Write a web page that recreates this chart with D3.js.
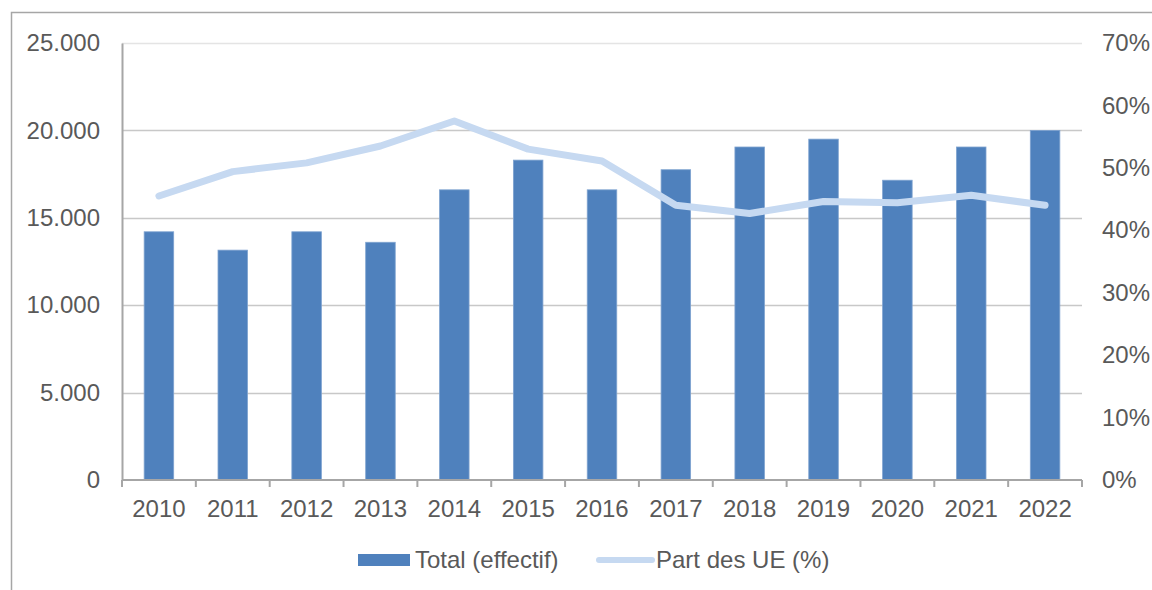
<!DOCTYPE html>
<html lang="fr">
<head>
<meta charset="UTF-8">
<title>Total et part des UE</title>
<script src="https://d3js.org/d3.v7.min.js"></script>
<style>
    body { margin: 0; background: #fff; font-family: "Liberation Sans", Arial, sans-serif; }
    svg text { fill: #595959; }
</style>
</head>
<body>
<div id="chart"></div>
<script>
    // data
    const years = ["2010", "2011", "2012", "2013", "2014", "2015", "2016", "2017", "2018", "2019", "2020", "2021", "2022"];
    const totals = [14200, 13150, 14200, 13600, 16600, 18300, 16600, 17750, 19050, 19500, 17150, 19050, 20000];
    const shareUE = [45.5, 49.4, 50.8, 53.5, 57.5, 53.0, 51.1, 44.0, 42.7, 44.6, 44.4, 45.6, 44.0];
    const leftTicks = [0, 5000, 10000, 15000, 20000, 25000];
    const rightTicks = [0, 10, 20, 30, 40, 50, 60, 70];

    const W = 1152, H = 590;
    const plot = { left: 122, right: 1082, top: 43, bottom: 480 };
    const fontSize = "24px";

    const svg = d3.select("#chart").append("svg")
        .attr("width", W).attr("height", H);

    // outer frame
    svg.append("rect")
        .attr("x", 11.5).attr("y", 12.5)
        .attr("width", W + 20).attr("height", H + 20)
        .attr("fill", "none").attr("stroke", "#a6a6a6").attr("stroke-width", 1.5);

    const x = d3.scaleBand().domain(years).range([plot.left, plot.right]).paddingInner(0.6).paddingOuter(0.3);
    const xBand = d3.scaleBand().domain(years).range([plot.left, plot.right]);
    const y = d3.scaleLinear().domain([0, 25000]).range([plot.bottom, plot.top]);
    const y2 = d3.scaleLinear().domain([0, 70]).range([plot.bottom, plot.top]);

    // gridlines
    svg.append("g").selectAll("line")
        .data(leftTicks.slice(1))
        .join("line")
        .attr("x1", plot.left).attr("x2", plot.right)
        .attr("y1", d => Math.round(y(d)) + 0.5).attr("y2", d => Math.round(y(d)) + 0.5)
        .attr("stroke", d => d === 25000 ? "#e4e4e4" : "#c8c8c8")
        .attr("stroke-width", 1.3);

    // bars
    svg.append("g").selectAll("rect")
        .data(years)
        .join("rect")
        .attr("x", d => x(d))
        .attr("width", x.bandwidth())
        .attr("y", (d, i) => y(totals[i]))
        .attr("height", (d, i) => y(0) - y(totals[i]))
        .attr("fill", "#4f81bd")
        .attr("stroke", "#7fa3d0")
        .attr("stroke-width", 0.8);

    // axes
    const axisCol = "#a6a6a6";
    const gLeft = svg.append("g").attr("transform", `translate(${plot.left},0)`)
        .call(d3.axisLeft(y).tickValues(leftTicks).tickSize(0).tickPadding(22)
            .tickFormat(d => d3.format(",")(d).replace(/,/g, ".")));
    gLeft.select(".domain").attr("stroke", axisCol).attr("stroke-width", 2);
    gLeft.selectAll("text").style("font-size", fontSize).style("font-family", "Liberation Sans, Arial, sans-serif");

    const gRight = svg.append("g").attr("transform", `translate(${plot.right},0)`)
        .call(d3.axisRight(y2).tickValues(rightTicks).tickSize(0).tickPadding(20)
            .tickFormat(d => d + "%"));
    gRight.select(".domain").remove();
    gRight.selectAll("text").style("font-size", fontSize).style("font-family", "Liberation Sans, Arial, sans-serif");

    const gBottom = svg.append("g").attr("transform", `translate(0,${plot.bottom})`);
    gBottom.append("line")
        .attr("x1", plot.left).attr("x2", plot.right)
        .attr("stroke", axisCol).attr("stroke-width", 2);
    const boundaries = years.map(d => xBand(d)).concat([plot.right]);
    gBottom.selectAll(".tk")
        .data(boundaries)
        .join("line")
        .attr("class", "tk")
        .attr("x1", d => d).attr("x2", d => d)
        .attr("y1", 0).attr("y2", 7)
        .attr("stroke", axisCol).attr("stroke-width", 2);
    gBottom.selectAll("text")
        .data(years)
        .join("text")
        .attr("x", d => xBand(d) + xBand.bandwidth() / 2)
        .attr("y", 37)
        .attr("text-anchor", "middle")
        .style("font-size", fontSize)
        .text(d => d);

    // line
    const line = d3.line()
        .x((d, i) => xBand(years[i]) + xBand.bandwidth() / 2)
        .y(d => y2(d));
    svg.append("path")
        .datum(shareUE)
        .attr("d", line)
        .attr("fill", "none")
        .attr("stroke", "#c6d9f1")
        .attr("stroke-width", 7)
        .attr("stroke-linecap", "round")
        .attr("stroke-linejoin", "round");

    // legend
    const lg = svg.append("g").attr("transform", "translate(0,560)");
    lg.append("rect").attr("x", 358).attr("y", -6).attr("width", 52).attr("height", 12).attr("fill", "#4f81bd");
    lg.append("text").attr("x", 415).attr("y", 8).style("font-size", fontSize).text("Total (effectif)");
    lg.append("line").attr("x1", 599).attr("x2", 652).attr("y1", 0).attr("y2", 0)
        .attr("stroke", "#c6d9f1").attr("stroke-width", 6).attr("stroke-linecap", "round");
    lg.append("text").attr("x", 656).attr("y", 8).style("font-size", fontSize).text("Part des UE (%)");
</script>
</body>
</html>
